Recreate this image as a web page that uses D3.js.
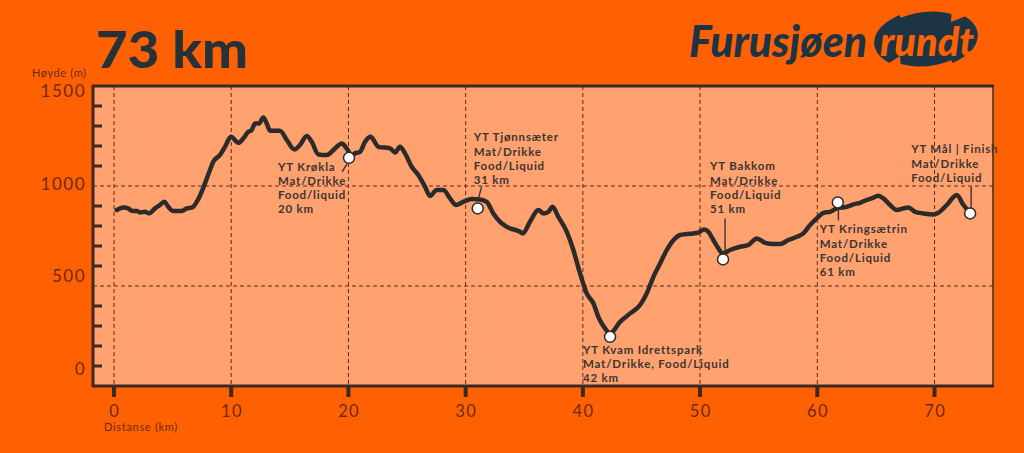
<!DOCTYPE html>
<html>
<head>
<meta charset="utf-8">
<script src="https://cdn.jsdelivr.net/npm/d3@7/dist/d3.min.js"></script>
<style>
  html, body { margin: 0; padding: 0; background: #FF6102; }
  svg { display: block; }
</style>
</head>
<body>
<svg id="chart" width="1024" height="453"></svg>
<script>
// ---------- DATA ----------
const distanceKm = [0.23,0.79,1.22,1.51,1.94,2.22,2.65,2.99,3.50,3.92,4.29,4.63,5.06,5.78,6.20,6.68,7.06,7.48,7.76,8.19,8.47,9.04,9.47,9.98,10.61,11.03,11.46,11.75,12.03,12.37,12.74,13.03,13.31,14.16,14.74,15.38,15.87,16.44,16.87,17.43,18.15,18.86,19.43,19.85,20.28,20.56,20.99,21.42,21.90,22.55,23.55,23.98,24.40,24.83,25.40,25.96,26.54,26.96,27.53,28.10,28.67,29.18,29.80,30.52,31.23,31.80,32.36,32.94,33.51,34.64,34.87,35.49,36.20,36.63,37.06,37.40,37.91,38.63,39.19,39.76,40.33,40.90,41.32,41.89,42.32,43.17,44.03,44.88,45.45,46.02,46.59,47.16,47.87,48.29,48.86,49.43,49.85,50.34,50.71,51.13,51.56,51.94,52.56,53.41,54.12,54.84,55.55,56.25,56.83,57.53,58.25,58.81,59.39,59.96,60.52,61.09,61.66,62.51,63.08,63.65,64.22,64.65,65.21,65.64,66.21,66.78,67.35,67.77,68.34,69.05,69.91,70.33,71.05,71.90,72.47,73.04];
const elevationM = [880,893,888,876,875,868,871,863,888,905,921,896,875,875,888,893,921,971,1013,1080,1121,1155,1196,1246,1216,1238,1271,1280,1313,1313,1343,1313,1276,1276,1230,1183,1205,1250,1221,1158,1155,1188,1213,1188,1155,1163,1171,1221,1246,1196,1188,1168,1196,1163,1096,1055,996,950,980,980,938,905,921,935,933,921,863,821,796,771,763,821,880,863,871,896,846,771,680,563,463,413,346,288,263,321,363,405,463,546,613,680,738,755,760,763,767,783,771,730,688,663,680,696,705,738,716,710,710,730,746,763,805,838,866,871,888,896,908,916,930,938,951,938,905,880,888,893,871,863,858,866,905,955,905,866];

const stationKm   = [20.05, 31.03, 42.32, 51.96, 61.75, 73.04];
const stationElev = [1141, 888, 246, 633, 918, 863];
const stationText = [
  ["YT Krøkla", "Mat/Drikke", "Food/liquid", "20 km"],
  ["YT Tjønnsæter", "Mat/Drikke", "Food/Liquid", "31 km"],
  ["YT Kvam Idrettspark", "Mat/Drikke, Food/Liquid", "42 km"],
  ["YT Bakkom", "Mat/Drikke", "Food/Liquid", "51 km"],
  ["YT Kringsætrin", "Mat/Drikke", "Food/Liquid", "61 km"],
  ["YT Mål | Finish", "Mat/Drikke", "Food/Liquid"]
];

const xTickValues = [0, 10, 20, 30, 40, 50, 60, 70];
const yTickLabels = [0, 500, 1000, 1500];
const yMinorTicks = [100, 200, 300, 400, 600, 700, 800, 900, 1100, 1200, 1300, 1400];
const yGridValues = [500, 1000];

const titleText = "73 km";
const yAxisTitle = "Høyde (m)";
const xAxisTitle = "Distanse (km)";

// ---------- LAYOUT ----------
const svg = d3.select("#chart");
const W = 1024, H = 453;
const plot = { left: 93, right: 993, top: 86, bottom: 386 };
const dark = "#2d2b2a";
const frameCol = "#3a2a22";
const labelCol = "#6e2a0c";
const plotFill = "#FFA270";

const x = d3.scaleLinear().domain([0, 70]).range([114, 934.5]);
const y = d3.scaleLinear().domain([0, 1500]).range([plot.bottom, plot.top]);
const yLabelPos = d3.scaleLinear().domain([0, 1500]).range([369, 91]);

svg.append("rect").attr("width", W).attr("height", H).attr("fill", "#FF6102");

// plot background
svg.append("rect")
  .attr("x", plot.left).attr("y", plot.top)
  .attr("width", plot.right - plot.left).attr("height", plot.bottom - plot.top)
  .attr("fill", plotFill);

// gridlines
const grid = svg.append("g").attr("stroke", "#5b2a14").attr("stroke-width", 1).attr("stroke-dasharray", "4,3");
grid.selectAll("line.v").data(xTickValues).join("line")
  .attr("x1", d => x(d)).attr("x2", d => x(d))
  .attr("y1", plot.top).attr("y2", plot.bottom);
grid.selectAll("line.h").data(yGridValues).join("line")
  .attr("x1", plot.left).attr("x2", plot.right)
  .attr("y1", d => y(d)).attr("y2", d => y(d));

// frame
svg.append("line").attr("x1", plot.left - 1).attr("x2", plot.right + 1)
  .attr("y1", plot.top).attr("y2", plot.top)
  .attr("stroke", frameCol).attr("stroke-width", 3);
svg.append("line").attr("x1", plot.right).attr("x2", plot.right)
  .attr("y1", plot.top).attr("y2", plot.bottom)
  .attr("stroke", frameCol).attr("stroke-width", 1.5);
svg.append("line").attr("x1", plot.left).attr("x2", plot.left)
  .attr("y1", plot.top - 1).attr("y2", plot.bottom + 1)
  .attr("stroke", frameCol).attr("stroke-width", 3);
svg.append("line").attr("x1", plot.left - 1).attr("x2", plot.right + 1)
  .attr("y1", plot.bottom).attr("y2", plot.bottom)
  .attr("stroke", frameCol).attr("stroke-width", 3);

// y minor ticks
svg.append("g").selectAll("line").data(yMinorTicks).join("line")
  .attr("x1", plot.left).attr("x2", plot.left + 9)
  .attr("y1", d => y(d)).attr("y2", d => y(d))
  .attr("stroke", frameCol).attr("stroke-width", 3);

// x ticks
svg.append("g").selectAll("line").data(xTickValues).join("line")
  .attr("x1", d => x(d)).attr("x2", d => x(d))
  .attr("y1", plot.bottom).attr("y2", plot.bottom + 11)
  .attr("stroke", frameCol).attr("stroke-width", 4);

const fontFam = "Lato, 'Open Sans', sans-serif";

// x tick labels
svg.append("g").selectAll("text").data(xTickValues).join("text")
  .attr("x", d => x(d) + 0.7).attr("y", 417)
  .attr("text-anchor", "middle")
  .attr("font-family", fontFam).attr("font-size", 16.5)
  .attr("letter-spacing", 1.4)
  .attr("fill", labelCol)
  .text(d => d);

// y tick labels
svg.append("g").selectAll("text").data(yTickLabels).join("text")
  .attr("x", 86).attr("y", d => yLabelPos(d) + 6)
  .attr("text-anchor", "end")
  .attr("font-family", fontFam).attr("font-size", 17)
  .attr("letter-spacing", 1.5)
  .attr("fill", labelCol)
  .text(d => d);

// axis titles
svg.append("text").attr("x", 32).attr("y", 77)
  .attr("font-family", fontFam).attr("font-size", 11)
  .attr("letter-spacing", 0.6)
  .attr("fill", labelCol).text(yAxisTitle);
svg.append("text").attr("x", 104).attr("y", 431)
  .attr("font-family", fontFam).attr("font-size", 11)
  .attr("letter-spacing", 0.7)
  .attr("fill", labelCol).text(xAxisTitle);

// title
svg.append("text").attr("x", 96).attr("y", 68)
  .attr("font-family", fontFam).attr("font-weight", 900).attr("font-size", 52)
  .attr("textLength", 152).attr("lengthAdjust", "spacingAndGlyphs")
  .attr("fill", "#263238").text(titleText);

// elevation line
const profile = distanceKm.map((d, i) => [d, elevationM[i]]);
svg.append("path")
  .datum(profile)
  .attr("fill", "none")
  .attr("stroke", dark)
  .attr("stroke-width", 4.5)
  .attr("stroke-linejoin", "round")
  .attr("stroke-linecap", "round")
  .attr("d", d3.line().x(d => x(d[0])).y(d => y(d[1])).curve(d3.curveMonotoneX));

// leaders (offsets relative to marker)
const leaders = [
  [[-2, 6], [-7, 14]],
  [[4, -22], [1, -11]],
  null,
  [[2, -41], [2, -6]],
  [[0.6, 1], [0.6, 18]],
  [[1, -27], [1, -5]]
];
// label anchor offsets relative to marker
const labelOffsets = [[-71, 13], [-4, -67], [-27, 17], [-13, -89], [-18, 31], [-59, -60]];

const stations = stationKm.map((k, i) => ({ km: k, el: stationElev[i], lines: stationText[i], leader: leaders[i], off: labelOffsets[i] }));

const stG = svg.append("g");
stations.forEach(s => {
  const cx = x(s.km), cy = y(s.el);
  if (s.leader) {
    stG.append("line")
      .attr("x1", cx + s.leader[0][0]).attr("y1", cy + s.leader[0][1])
      .attr("x2", cx + s.leader[1][0]).attr("y2", cy + s.leader[1][1])
      .attr("stroke", "#3a3430").attr("stroke-width", 1.4);
  }
  const t = stG.append("text")
    .attr("font-family", fontFam).attr("font-weight", 700).attr("font-size", 11.5)
    .attr("letter-spacing", 0.8)
    .attr("fill", "#3c3530");
  s.lines.forEach((ln, j) => {
    t.append("tspan").attr("x", cx + s.off[0]).attr("y", cy + s.off[1] + j * 14.2).text(ln);
  });
});
stG.selectAll("circle").data(stations).join("circle")
  .attr("cx", d => x(d.km)).attr("cy", d => y(d.el)).attr("r", 5.5)
  .attr("fill", "#ffffff").attr("stroke", dark).attr("stroke-width", 1.5);

// ---------- LOGO ----------
const logo = svg.append("g");
logo.append("text").attr("x", 689).attr("y", 57)
  .attr("font-family", fontFam).attr("font-weight", 900).attr("font-style", "italic")
  .attr("font-size", 44).attr("fill", "#1d3444")
  .attr("textLength", 178).attr("lengthAdjust", "spacingAndGlyphs")
  .text("Furusjøen");
logo.append("ellipse").attr("cx", 926).attr("cy", 39).attr("rx", 52).attr("ry", 30)
  .attr("transform", "rotate(-6 926 39)")
  .attr("fill", "#1d3444");
logo.append("path")
  .attr("d", "M900,16 Q930,4 958,14")
  .attr("fill", "none").attr("stroke", "#FF6102").attr("stroke-width", 4);
logo.append("path").attr("d", "M952,6 L966,16 L951,22 Z").attr("fill", "#FF6102");
logo.append("path")
  .attr("d", "M952,62 Q922,74 894,64")
  .attr("fill", "none").attr("stroke", "#FF6102").attr("stroke-width", 4);
logo.append("path").attr("d", "M900,56 L886,65 L901,72 Z").attr("fill", "#FF6102");
logo.append("text").attr("x", 880).attr("y", 56)
  .attr("font-family", fontFam).attr("font-weight", 900).attr("font-style", "italic")
  .attr("font-size", 40).attr("fill", "#FF6102")
  .attr("textLength", 94).attr("lengthAdjust", "spacingAndGlyphs")
  .text("rundt");
</script>
</body>
</html>
